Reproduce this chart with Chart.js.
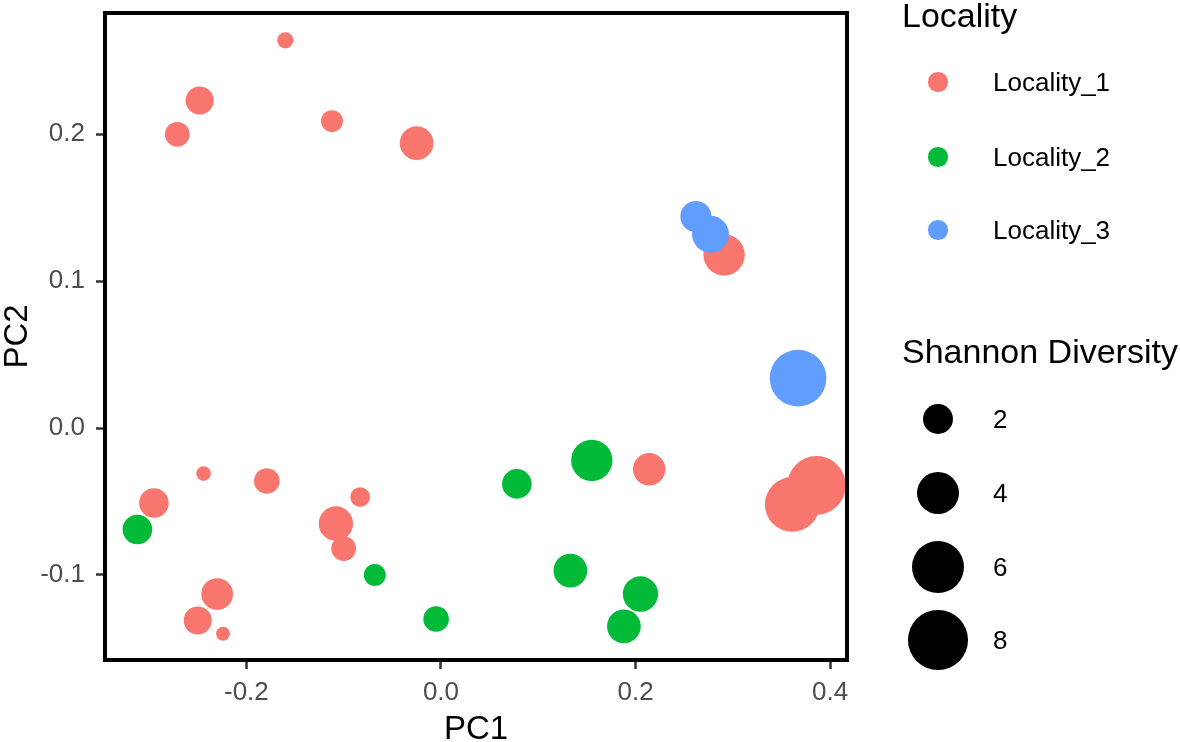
<!DOCTYPE html>
<html>
<head>
<meta charset="utf-8">
<title>PCA by locality</title>
<script src="https://cdn.jsdelivr.net/npm/chart.js@4.4.1/dist/chart.umd.min.js"></script>
<style>
  body { margin: 0; background: #fff; font-family: "Liberation Sans", Arial, sans-serif; }
  #wrap { position: relative; width: 1180px; height: 742px; overflow: hidden; }
  #pca { position: absolute; left: 0; top: 0; }
  .legend-title { position: absolute; left: 902px; font-size: 34px; line-height: 34px; color: #000; white-space: nowrap; }
  .key { position: absolute; border-radius: 50%; }
  .key-label { position: absolute; left: 993px; font-size: 26px; line-height: 26px; color: #000; white-space: nowrap; }
</style>
</head>
<body>
<div id="wrap">
  <canvas id="pca" width="1180" height="742"></canvas>
  <div id="legend"></div>
</div>
<script>
const localities = ["Locality_1", "Locality_2", "Locality_3"];
const localityColors = ["#F8766D", "#00BA38", "#619CFF"];

// Locality_1
const pc1Loc1 = [-0.160, -0.248, -0.271, -0.112, -0.025, 0.291, 0.214, 0.386, 0.361,
                 -0.244, -0.179, -0.295, -0.083, -0.108, -0.100, -0.230, -0.250, -0.224];
const pc2Loc1 = [0.264, 0.223, 0.200, 0.209, 0.194, 0.118, -0.028, -0.039, -0.052,
                 -0.031, -0.036, -0.051, -0.047, -0.065, -0.082, -0.113, -0.131, -0.140];
const shannonLoc1 = [0.5, 1.7, 1.3, 1.0, 2.5, 3.8, 2.3, 7.7, 6.7,
                     0.4, 1.4, 1.9, 0.8, 2.6, 1.3, 2.2, 1.7, 0.35];

// Locality_2
const pc1Loc2 = [0.155, -0.312, -0.068, -0.005, 0.078, 0.133, 0.205, 0.188];
const pc2Loc2 = [-0.022, -0.069, -0.100, -0.130, -0.038, -0.097, -0.113, -0.135];
const shannonLoc2 = [3.8, 1.9, 1.0, 1.4, 1.9, 2.5, 2.75, 2.5];

// Locality_3
const pc1Loc3 = [0.262, 0.277, 0.367];
const pc2Loc3 = [0.144, 0.132, 0.034];
const shannonLoc3 = [2.1, 3.0, 7.2];

const xTicks = [-0.2, 0.0, 0.2, 0.4];
const yTicks = [-0.1, 0.0, 0.1, 0.2];
const sizeBreaks = [2, 4, 6, 8];

// area grows linearly with diversity
function sizeFor(d) {
    return Math.sqrt(110 * d + 10);
}

function makeSet(i, xs, ys, ds) {
    return {
        label: localities[i],
        data: xs.map((x, k) => ({ x, y: ys[k], d: ds[k] })),
        backgroundColor: localityColors[i],
        borderWidth: 0,
        pointRadius: (ctx) => sizeFor(ctx.raw ? ctx.raw.d : 1),
        order: 3 - i,
    };
}

const panelBorder = {
    id: "panelBorder",
    afterDatasetsDraw(chart) {
        const { ctx, chartArea: a } = chart;
        ctx.save();
        ctx.strokeStyle = "#000";
        ctx.lineWidth = 4;
        ctx.strokeRect(a.left, a.top, a.right - a.left, a.bottom - a.top);
        ctx.restore();
    },
};

Chart.defaults.font.family = '"Liberation Sans", Arial, sans-serif';

function tickGrid(len) {
    return {
        display: true,
        drawOnChartArea: false,
        drawTicks: true,
        tickLength: len,
        tickWidth: 2.5,
        tickColor: "#333333",
    };
}

new Chart(document.getElementById("pca"), {
    type: "scatter",
    data: {
        datasets: [
            makeSet(0, pc1Loc1, pc2Loc1, shannonLoc1),
            makeSet(1, pc1Loc2, pc2Loc2, shannonLoc2),
            makeSet(2, pc1Loc3, pc2Loc3, shannonLoc3),
        ],
    },
    options: {
        responsive: false,
        animation: false,
        events: [],
        layout: { autoPadding: false, padding: { left: 0, right: 333, top: 13, bottom: 0 } },
        plugins: { legend: { display: false }, tooltip: { enabled: false } },
        scales: {
            x: {
                type: "linear",
                min: -0.3453,
                max: 0.4173,
                afterBuildTicks: (s) => { s.ticks = xTicks.map((v) => ({ value: v })); },
                afterFit: (s) => { s.height = 82; },
                grid: tickGrid(9),
                border: { display: false },
                ticks: {
                    color: "#4D4D4D",
                    font: { size: 26 },
                    padding: 8,
                    maxRotation: 0,
                    autoSkip: false,
                    callback: (v) => Number(v).toFixed(1),
                },
                title: {
                    display: true, text: "PC1", color: "#000",
                    font: { size: 33, lineHeight: 1 },
                    padding: { top: 0, bottom: -4.5 },
                },
            },
            y: {
                type: "linear",
                min: -0.1579,
                max: 0.2826,
                afterBuildTicks: (s) => { s.ticks = yTicks.map((v) => ({ value: v })); },
                afterFit: (s) => { s.width = 105; s.paddingTop = 0; s.paddingBottom = 0; },
                grid: tickGrid(9),
                border: { display: false },
                ticks: {
                    color: "#4D4D4D",
                    font: { size: 26 },
                    padding: 11,
                    autoSkip: false,
                    callback: (v) => Number(v).toFixed(1),
                },
                title: {
                    display: true, text: "PC2", color: "#000",
                    font: { size: 33, lineHeight: 1 },
                    padding: { top: 1.5, bottom: 0 },
                },
            },
        },
    },
    plugins: [panelBorder],
});

// legends drawn as html next to the panel
const legendBox = document.getElementById("legend");
const keyX = 938;

function addTitle(text, capMid) {
    const el = document.createElement("div");
    el.className = "legend-title";
    el.textContent = text;
    el.style.top = (capMid - 17) + "px";
    legendBox.appendChild(el);
}

function addKey(color, r, cy, text) {
    const dot = document.createElement("div");
    dot.className = "key";
    dot.style.background = color;
    dot.style.width = dot.style.height = (2 * r) + "px";
    dot.style.left = (keyX - r) + "px";
    dot.style.top = (cy - r) + "px";
    legendBox.appendChild(dot);

    const lab = document.createElement("div");
    lab.className = "key-label";
    lab.textContent = text;
    lab.style.top = (cy - 13) + "px";
    legendBox.appendChild(lab);
}

addTitle("Locality", 15);
const localityKeyY = [82, 157, 230];
localities.forEach((name, i) => addKey(localityColors[i], 9.7, localityKeyY[i], name));

addTitle("Shannon Diversity", 351);
const sizeKeyY = [419, 493, 567, 640];
sizeBreaks.forEach((b, i) => addKey("#000", sizeFor(b), sizeKeyY[i], String(b)));
</script>
</body>
</html>
